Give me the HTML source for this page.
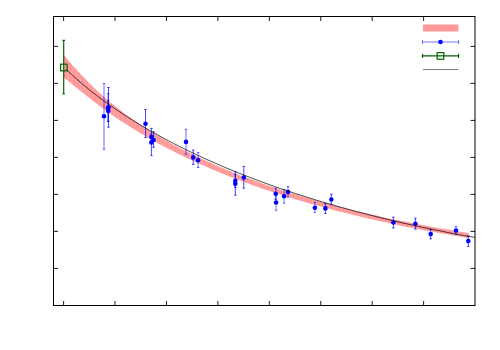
<!DOCTYPE html>
<html><head><meta charset="utf-8"><title>plot</title>
<style>
html,body{margin:0;padding:0;background:#fff;font-family:"Liberation Sans",sans-serif;}
svg{display:block}
.eb{fill:none;stroke:#0000ff;stroke-width:0.72}
</style></head><body>
<svg width="500" height="350" viewBox="0 0 500 350">
<rect width="500" height="350" fill="#fff"/>
<defs><clipPath id="bc"><polygon points="63.8,55.0 68.9,61.1 74.0,66.9 79.2,72.6 84.3,78.0 89.4,83.2 94.5,88.2 99.7,92.9 104.8,97.5 109.9,101.9 115.0,106.1 120.2,110.1 125.3,113.9 130.4,117.7 135.5,121.3 140.7,124.8 145.8,128.1 150.9,131.4 156.0,134.5 161.2,137.6 166.3,140.5 171.4,143.4 176.5,146.2 181.7,148.9 186.8,151.5 191.9,154.1 197.0,156.6 202.1,159.0 207.3,161.3 212.4,163.6 217.5,165.9 222.6,168.1 227.8,170.2 232.9,172.3 238.0,174.4 243.1,176.4 248.3,178.3 253.4,180.2 258.5,182.1 263.6,183.9 268.8,185.7 273.9,187.4 279.0,189.1 284.1,190.8 289.3,192.4 294.4,194.0 299.5,195.6 304.6,197.1 309.8,198.6 314.9,200.1 320.0,201.5 325.1,203.0 330.3,204.3 335.4,205.7 340.5,207.0 345.6,208.3 350.7,209.6 355.9,210.9 361.0,212.1 366.1,213.3 371.2,214.5 376.4,215.6 381.5,216.8 386.6,217.9 391.7,219.0 396.9,220.0 402.0,221.1 407.1,222.1 412.2,223.1 417.4,224.1 422.5,225.1 427.6,226.0 432.7,227.0 437.9,227.9 443.0,228.8 448.1,229.6 453.2,230.5 458.4,231.4 463.5,232.2 468.6,233.0 468.6,238.0 463.5,237.2 458.4,236.3 453.2,235.5 448.1,234.6 443.0,233.7 437.9,232.8 432.7,231.8 427.6,230.9 422.5,229.9 417.4,228.9 412.2,227.9 407.1,226.9 402.0,225.9 396.9,224.8 391.7,223.7 386.6,222.6 381.5,221.5 376.4,220.3 371.2,219.2 366.1,218.0 361.0,216.8 355.9,215.6 350.7,214.3 345.6,213.0 340.5,211.7 335.4,210.4 330.3,209.1 325.1,207.7 320.0,206.3 314.9,204.9 309.8,203.4 304.6,201.9 299.5,200.4 294.4,198.9 289.3,197.3 284.1,195.7 279.0,194.1 273.9,192.4 268.8,190.7 263.6,189.0 258.5,187.2 253.4,185.4 248.3,183.5 243.1,181.6 238.0,179.7 232.9,177.7 227.8,175.7 222.6,173.7 217.5,171.6 212.4,169.4 207.3,167.2 202.1,165.0 197.0,162.7 191.9,160.3 186.8,157.9 181.7,155.5 176.5,152.9 171.4,150.3 166.3,147.7 161.2,145.0 156.0,142.2 150.9,139.3 145.8,136.4 140.7,133.3 135.5,130.2 130.4,127.0 125.3,123.8 120.2,120.4 115.0,116.9 109.9,113.3 104.8,109.7 99.7,105.9 94.5,102.0 89.4,98.0 84.3,94.0 79.2,89.9 74.0,85.7 68.9,81.6 63.8,77.5"/></clipPath></defs>
<polygon points="63.8,55.0 68.9,61.1 74.0,66.9 79.2,72.6 84.3,78.0 89.4,83.2 94.5,88.2 99.7,92.9 104.8,97.5 109.9,101.9 115.0,106.1 120.2,110.1 125.3,113.9 130.4,117.7 135.5,121.3 140.7,124.8 145.8,128.1 150.9,131.4 156.0,134.5 161.2,137.6 166.3,140.5 171.4,143.4 176.5,146.2 181.7,148.9 186.8,151.5 191.9,154.1 197.0,156.6 202.1,159.0 207.3,161.3 212.4,163.6 217.5,165.9 222.6,168.1 227.8,170.2 232.9,172.3 238.0,174.4 243.1,176.4 248.3,178.3 253.4,180.2 258.5,182.1 263.6,183.9 268.8,185.7 273.9,187.4 279.0,189.1 284.1,190.8 289.3,192.4 294.4,194.0 299.5,195.6 304.6,197.1 309.8,198.6 314.9,200.1 320.0,201.5 325.1,203.0 330.3,204.3 335.4,205.7 340.5,207.0 345.6,208.3 350.7,209.6 355.9,210.9 361.0,212.1 366.1,213.3 371.2,214.5 376.4,215.6 381.5,216.8 386.6,217.9 391.7,219.0 396.9,220.0 402.0,221.1 407.1,222.1 412.2,223.1 417.4,224.1 422.5,225.1 427.6,226.0 432.7,227.0 437.9,227.9 443.0,228.8 448.1,229.6 453.2,230.5 458.4,231.4 463.5,232.2 468.6,233.0 468.6,238.0 463.5,237.2 458.4,236.3 453.2,235.5 448.1,234.6 443.0,233.7 437.9,232.8 432.7,231.8 427.6,230.9 422.5,229.9 417.4,228.9 412.2,227.9 407.1,226.9 402.0,225.9 396.9,224.8 391.7,223.7 386.6,222.6 381.5,221.5 376.4,220.3 371.2,219.2 366.1,218.0 361.0,216.8 355.9,215.6 350.7,214.3 345.6,213.0 340.5,211.7 335.4,210.4 330.3,209.1 325.1,207.7 320.0,206.3 314.9,204.9 309.8,203.4 304.6,201.9 299.5,200.4 294.4,198.9 289.3,197.3 284.1,195.7 279.0,194.1 273.9,192.4 268.8,190.7 263.6,189.0 258.5,187.2 253.4,185.4 248.3,183.5 243.1,181.6 238.0,179.7 232.9,177.7 227.8,175.7 222.6,173.7 217.5,171.6 212.4,169.4 207.3,167.2 202.1,165.0 197.0,162.7 191.9,160.3 186.8,157.9 181.7,155.5 176.5,152.9 171.4,150.3 166.3,147.7 161.2,145.0 156.0,142.2 150.9,139.3 145.8,136.4 140.7,133.3 135.5,130.2 130.4,127.0 125.3,123.8 120.2,120.4 115.0,116.9 109.9,113.3 104.8,109.7 99.7,105.9 94.5,102.0 89.4,98.0 84.3,94.0 79.2,89.9 74.0,85.7 68.9,81.6 63.8,77.5" fill="#ff9999"/>
<path d="M68.02 40V250M72.23 40V250M76.45 40V250M80.67 40V250M84.88 40V250M89.10 40V250M93.32 40V250M97.53 40V250M101.75 40V250M105.97 40V250M110.18 40V250M114.40 40V250M118.62 40V250M122.83 40V250M127.05 40V250M131.27 40V250M135.48 40V250M139.70 40V250M143.92 40V250M148.13 40V250M152.35 40V250M156.57 40V250M160.78 40V250M165.00 40V250M169.22 40V250M173.43 40V250M177.65 40V250M181.87 40V250M186.08 40V250M190.30 40V250M194.52 40V250M198.73 40V250M202.95 40V250M207.17 40V250M211.38 40V250M215.60 40V250M219.82 40V250M224.03 40V250M228.25 40V250M232.47 40V250M236.68 40V250M240.90 40V250M245.12 40V250M249.33 40V250M253.55 40V250M257.77 40V250M261.98 40V250M266.20 40V250M270.42 40V250M274.63 40V250M278.85 40V250M283.07 40V250M287.29 40V250M291.50 40V250M295.72 40V250M299.94 40V250M304.15 40V250M308.37 40V250M312.59 40V250M316.80 40V250M321.02 40V250M325.24 40V250M329.45 40V250M333.67 40V250M337.89 40V250M342.10 40V250M346.32 40V250M350.54 40V250M354.75 40V250M358.97 40V250M363.19 40V250M367.40 40V250M371.62 40V250M375.84 40V250M380.05 40V250M384.27 40V250M388.49 40V250M392.70 40V250M396.92 40V250M401.14 40V250M405.35 40V250M409.57 40V250M413.79 40V250M418.00 40V250M422.22 40V250M426.44 40V250M430.65 40V250M434.87 40V250M439.09 40V250M443.30 40V250M447.52 40V250M451.74 40V250M455.95 40V250M460.17 40V250M464.39 40V250" clip-path="url(#bc)" fill="none" stroke="#fff" stroke-opacity="0.25" stroke-width="0.6"/>
<g>
<path class="eb" style="stroke-width:0.58" d="M104.0 83.5V149.3M102.75 83.5h2.5M102.75 149.3h2.5"/>
<path class="eb" d="M108.5 87.5V127.2M107.25 87.5h2.5M107.25 127.2h2.5"/>
<path class="eb" style="stroke-width:0.58" d="M108.0 93.5V121.3M106.75 93.5h2.5M106.75 121.3h2.5"/>
<path class="eb" d="M108.2 100.7V121.3M106.95 100.7h2.5M106.95 121.3h2.5"/>
<path class="eb" d="M145.5 109.5V137.5M144.25 109.5h2.5M144.25 137.5h2.5"/>
<path class="eb" d="M151.4 134.0V140.0M150.15 134.0h2.5M150.15 140.0h2.5"/>
<path class="eb" d="M153.6 131.7V147.3M152.35 131.7h2.5M152.35 147.3h2.5"/>
<path class="eb" d="M151.4 128.4V155.6M150.15 128.4h2.5M150.15 155.6h2.5"/>
<path class="eb" style="stroke-width:0.58" d="M186.0 129.3V154.3M184.75 129.3h2.5M184.75 154.3h2.5"/>
<path class="eb" d="M193.2 150.1V164.4M191.95 150.1h2.5M191.95 164.4h2.5"/>
<path class="eb" style="stroke-width:0.58" d="M198.1 152.5V167.5M196.85 152.5h2.5M196.85 167.5h2.5"/>
<path class="eb" d="M235.3 174.5V187.5M234.05 174.5h2.5M234.05 187.5h2.5"/>
<path class="eb" d="M235.3 171.7V195.2M234.05 171.7h2.5M234.05 195.2h2.5"/>
<path class="eb" d="M243.8 166.4V188.2M242.55 166.4h2.5M242.55 188.2h2.5"/>
<path class="eb" d="M275.7 188.2V199.4M274.45 188.2h2.5M274.45 199.4h2.5"/>
<path class="eb" style="stroke-width:0.58" d="M276.1 194.7V210.3M274.85 194.7h2.5M274.85 210.3h2.5"/>
<path class="eb" style="stroke-width:0.58" d="M284.1 189.6V203.2M282.85 189.6h2.5M282.85 203.2h2.5"/>
<path class="eb" style="stroke-width:0.58" d="M288.0 186.5V197.3M286.75 186.5h2.5M286.75 197.3h2.5"/>
<path class="eb" style="stroke-width:0.58" d="M314.9 202.3V212.4M313.65 202.3h2.5M313.65 212.4h2.5"/>
<path class="eb" d="M325.4 203.5V213.5M324.15 203.5h2.5M324.15 213.5h2.5"/>
<path class="eb" d="M331.3 194.3V204.5M330.05 194.3h2.5M330.05 204.5h2.5"/>
<path class="eb" d="M393.4 217.2V228.0M392.15 217.2h2.5M392.15 228.0h2.5"/>
<path class="eb" d="M415.4 218.2V229.1M414.15 218.2h2.5M414.15 229.1h2.5"/>
<path class="eb" d="M430.7 229.4V238.9M429.45 229.4h2.5M429.45 238.9h2.5"/>
<path class="eb" style="stroke-width:0.58" d="M456.0 226.4V234.3M454.75 226.4h2.5M454.75 234.3h2.5"/>
<path class="eb" d="M468.3 235.9V246.4M467.05 235.9h2.5M467.05 246.4h2.5"/>
</g>
<g fill="#0000ff">
<circle cx="104.0" cy="116.2" r="2.3"/>
<circle cx="108.5" cy="107.6" r="2.3"/>
<circle cx="108.0" cy="107.9" r="2.3"/>
<circle cx="108.2" cy="110.9" r="2.3"/>
<circle cx="145.5" cy="123.7" r="2.3"/>
<circle cx="151.4" cy="137.0" r="2.3"/>
<circle cx="153.6" cy="140.0" r="2.3"/>
<circle cx="151.4" cy="142.4" r="2.3"/>
<circle cx="186.0" cy="141.9" r="2.3"/>
<circle cx="193.2" cy="157.4" r="2.3"/>
<circle cx="198.1" cy="160.2" r="2.3"/>
<circle cx="235.3" cy="180.7" r="2.3"/>
<circle cx="235.3" cy="183.7" r="2.3"/>
<circle cx="243.8" cy="177.5" r="2.3"/>
<circle cx="275.7" cy="193.8" r="2.3"/>
<circle cx="276.1" cy="202.5" r="2.3"/>
<circle cx="284.1" cy="196.3" r="2.3"/>
<circle cx="288.0" cy="192.0" r="2.3"/>
<circle cx="314.9" cy="207.7" r="2.3"/>
<circle cx="325.4" cy="208.4" r="2.3"/>
<circle cx="331.3" cy="199.5" r="2.3"/>
<circle cx="393.4" cy="222.5" r="2.3"/>
<circle cx="415.4" cy="223.8" r="2.3"/>
<circle cx="430.7" cy="234.1" r="2.3"/>
<circle cx="456.0" cy="230.5" r="2.3"/>
<circle cx="468.3" cy="241.1" r="2.3"/>
</g>
<g fill="none" stroke="#006400" stroke-width="1.2">
<path d="M63.7 40V94.2M62.4 40.3h2.6M62.4 94h2.6"/>
<rect x="60.6" y="64.2" width="6.6" height="6.6"/>
</g>
<polyline points="66.6,69.9 71.7,74.6 76.8,79.2 81.9,83.6 87.0,87.8 92.0,91.9 97.1,95.8 102.2,99.7 107.3,103.3 112.4,106.9 117.5,110.4 122.6,113.8 127.7,117.1 132.8,120.3 137.8,123.4 142.9,126.5 148.0,129.5 153.1,132.4 158.2,135.2 163.3,138.0 168.4,140.7 173.5,143.4 178.5,146.0 183.6,148.5 188.7,151.0 193.8,153.4 198.9,155.8 204.0,158.2 209.1,160.5 214.2,162.7 219.3,164.9 224.3,167.1 229.4,169.2 234.5,171.3 239.6,173.4 244.7,175.4 249.8,177.3 254.9,179.3 260.0,181.2 265.1,183.1 270.1,184.9 275.2,186.7 280.3,188.5 285.4,190.2 290.5,191.9 295.6,193.6 300.7,195.2 305.8,196.8 310.9,198.4 315.9,200.0 321.0,201.5 326.1,203.0 331.2,204.5 336.3,206.0 341.4,207.4 346.5,208.8 351.6,210.2 356.7,211.6 361.7,212.9 366.8,214.2 371.9,215.5 377.0,216.8 382.1,218.1 387.2,219.3 392.3,220.5 397.4,221.7 402.4,222.9 407.5,224.0 412.6,225.1 417.7,226.3 422.8,227.4 427.9,228.4 433.0,229.5 438.1,230.5 443.2,231.5 448.2,232.6 453.3,233.5 458.4,234.5 463.5,235.5 468.6,236.4 475,237.35" fill="none" stroke="#000" stroke-width="0.7"/>
<!-- legend -->
<rect x="422.9" y="24.5" width="35.5" height="7" fill="#ff9999"/>
<path class="eb" style="stroke-width:0.55" d="M422.5 42H458.6M422.5 39.8v4.4M458.6 39.8v4.4"/>
<circle cx="440.5" cy="42" r="2.3" fill="#0000ff"/>
<g fill="none" stroke="#006400" stroke-width="1.2">
<path d="M422.5 55.9H458.6M422.5 53.7v4.4M458.6 53.7v4.4"/>
<rect x="437.2" y="52.6" width="6.6" height="6.6"/>
</g>
<path d="M423 69.5H458.2" fill="none" stroke="#000" stroke-width="0.5"/>
<!-- frame -->
<path d="M63.60 16.5v4.5M63.60 305.5v-4.5M115.03 16.5v4.5M115.03 305.5v-4.5M166.46 16.5v4.5M166.46 305.5v-4.5M217.89 16.5v4.5M217.89 305.5v-4.5M269.32 16.5v4.5M269.32 305.5v-4.5M320.75 16.5v4.5M320.75 305.5v-4.5M372.18 16.5v4.5M372.18 305.5v-4.5M423.61 16.5v4.5M423.61 305.5v-4.5M53.5 46.40h4.5M475.0 46.40h-4.5M53.5 83.40h4.5M475.0 83.40h-4.5M53.5 120.40h4.5M475.0 120.40h-4.5M53.5 157.40h4.5M475.0 157.40h-4.5M53.5 194.40h4.5M475.0 194.40h-4.5M53.5 231.40h4.5M475.0 231.40h-4.5M53.5 268.40h4.5M475.0 268.40h-4.5" fill="none" stroke="#000" stroke-width="0.9"/>
<rect x="53.5" y="16.5" width="421.5" height="289.0" fill="none" stroke="#000" stroke-width="1"/>
</svg>
</body></html>
